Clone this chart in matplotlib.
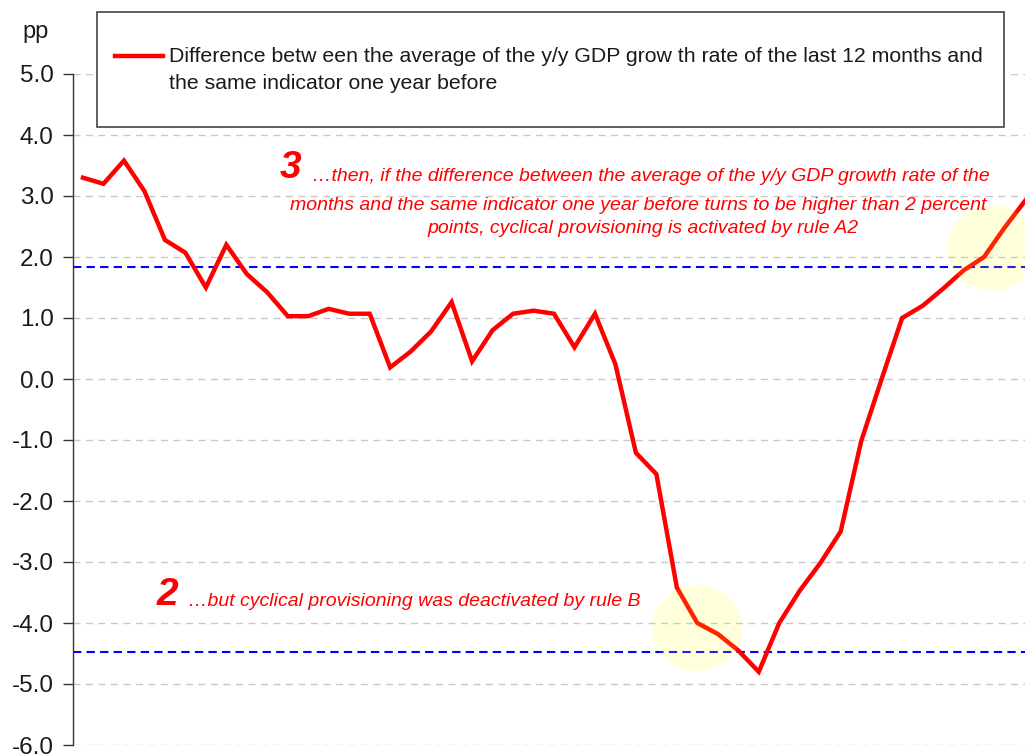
import matplotlib
matplotlib.use('Agg')
import matplotlib.pyplot as plt
from matplotlib.patches import Ellipse, Rectangle
from matplotlib.lines import Line2D
from matplotlib.ticker import FormatStrFormatter
from matplotlib.transforms import Bbox

plt.rcParams['font.family'] = ['Liberation Sans', 'DejaVu Sans']
plt.rcParams['axes.unicode_minus'] = False

# difference of the 12-month average y/y GDP growth vs. one year before (pp)
gdp_diff = [3.30, 3.20, 3.58, 3.08, 2.28, 2.07, 1.50, 2.20, 1.72, 1.42,
            1.03, 1.03, 1.15, 1.07, 1.07, 0.19, 0.45, 0.78, 1.26, 0.29,
            0.80, 1.07, 1.12, 1.07, 0.52, 1.07, 0.24, -1.21, -1.56, -3.42,
            -4.00, -4.18, -4.45, -4.80, -4.00, -3.47, -3.02, -2.50, -1.02, 0.00,
            1.00, 1.20, 1.48, 1.78, 2.00, 2.48, 2.92]
periods = list(range(len(gdp_diff)))

# thresholds (blue dashed lines)
upper_thr = 1.83
lower_thr = -4.47

# highlighted points (x index, y value)
highlights = [(30.0, -4.08), (44.4, 2.15)]

yticks = [5.0, 4.0, 3.0, 2.0, 1.0, 0.0, -1.0, -2.0, -3.0, -4.0, -5.0, -6.0]
legend_label = ("Difference betw een the average of the y/y GDP grow th rate of the last 12 months and\n"
                "the same indicator one year before")

W, H = 1025, 756
fig = plt.figure(figsize=(W / 100, H / 100), dpi=100)
ax = fig.add_axes([73 / W, 11 / H, (W - 73) / W, (745 - 74) / H])

for yv in yticks:
    ax.axhline(yv, color='#c8c8c8', lw=1, dashes=(5, 4), zorder=1)

ax.axhline(upper_thr, color='#0000ff', lw=1.5, dashes=(4, 2.5), zorder=2)
ax.axhline(lower_thr, color='#0000ff', lw=1.5, dashes=(4, 2.5), zorder=2)

ax.plot(periods, gdp_diff, color='#ff0000', lw=3.2, solid_joinstyle='miter', zorder=3)

for cx, cy in highlights:
    ax.add_patch(Ellipse((cx, cy), width=4.4, height=1.41, facecolor='#ffff00',
                         alpha=0.14, edgecolor='none', zorder=4))

ax.set_xlim(-0.488, 46.0)
ax.set_ylim(-6.0, 5.0)
ax.set_yticks(yticks)
ax.yaxis.set_major_formatter(FormatStrFormatter('%.1f'))
ax.tick_params(axis='y', direction='out', length=7, width=1, color='#333333',
               labelsize=17.5, labelcolor='#1a1a1a', pad=7)
ax.set_xticks([])
for s in ['top', 'right', 'bottom']:
    ax.spines[s].set_visible(False)
ax.spines['left'].set_color('#333333')
ax.spines['left'].set_linewidth(1)

fig.text(22 / W, 1 - 38 / H, 'pp', fontsize=17, color='#1a1a1a', ha='left', va='baseline')

# legend box
fig.patches.append(Rectangle((97 / W, 1 - 127 / H), (1004 - 97) / W, (127 - 12) / H,
                             transform=fig.transFigure, facecolor='white',
                             edgecolor='#444444', lw=1.2, zorder=5))
fig.lines.append(Line2D([115 / W, 163 / W], [1 - 56 / H, 1 - 56 / H],
                        transform=fig.transFigure, color='#ff0000', lw=3.2, zorder=6))
fig.text(169 / W, 1 - 89 / H, legend_label, fontsize=15.3, color='#1a1a1a',
         ha='left', va='baseline', linespacing=1.5, zorder=7)

# annotations
red = '#ff0000'
clip = Bbox.from_extents(0, 0, 993, H)
notes = [
    (280, 178, '3', dict(fontsize=28, fontweight='bold', fontstyle='italic')),
    (312, 181, '\u2026then, if the difference between the average of the y/y GDP growth rate of the',
     dict(fontsize=14, fontstyle='italic')),
    (290, 210, 'months and the same indicator one year before turns to be higher than 2 percent',
     dict(fontsize=14, fontstyle='italic')),
    (427, 233, 'points, cyclical provisioning is activated by rule A2',
     dict(fontsize=14, fontstyle='italic')),
    (157, 605, '2', dict(fontsize=28, fontweight='bold', fontstyle='italic')),
    (188, 606, '\u2026but cyclical provisioning was deactivated by rule B',
     dict(fontsize=14, fontstyle='italic')),
]
for px, py, s, kw in notes:
    t = fig.text(px / W, 1 - py / H, s, color=red, ha='left', va='baseline', zorder=8, **kw)
    t.set_clip_box(clip)
    t.set_clip_on(True)

fig.savefig('out.png', dpi=100)
